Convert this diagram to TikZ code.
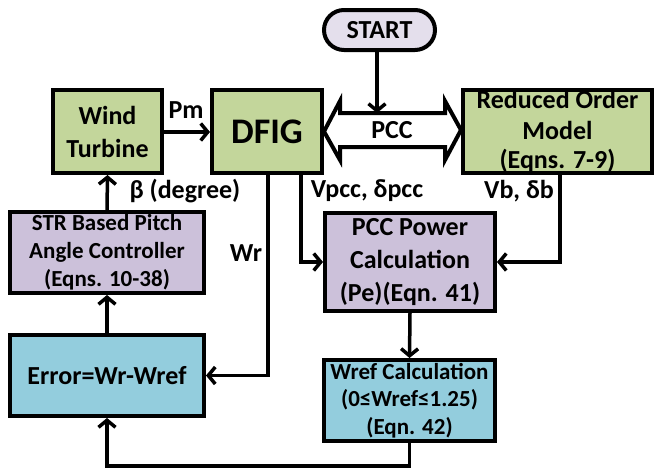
\documentclass[tikz,border=0pt]{standalone}
\usepackage{fontspec}
\setmainfont{Carlito}
\usetikzlibrary{arrows.meta}
\definecolor{cgreen}{HTML}{C3D69B}
\definecolor{cpurple}{HTML}{CCC1DA}
\definecolor{cblue}{HTML}{93CDDD}
\definecolor{cstart}{HTML}{E4DFEC}
\begin{document}
\begin{tikzpicture}[x=1pt,y=-1pt,
  box/.style={draw=black,line width=4pt,rectangle,align=center,inner sep=0pt,font=\bfseries\fontsize{26}{33}\selectfont},
  gbox/.style={box,fill=cgreen},
  pbox/.style={box,fill=cpurple},
  bbox/.style={box,fill=cblue},
  conn/.style={line width=3.5pt,-{Straight Barb[length=7pt,width=17pt]}},
  lbl/.style={font=\bfseries\fontsize{26}{30}\selectfont,inner sep=0pt}]
\useasboundingbox (0,0) rectangle (656,471);
\node[gbox,minimum width=109pt,minimum height=83pt] (wt) at (107.5,131.5) {Wind\\Turbine};
\node[gbox,minimum width=110pt,minimum height=83pt,font=\bfseries\fontsize{36}{40}\selectfont] (dfig) at (267,131.5) {DFIG};
\node[gbox,minimum width=189pt,minimum height=83pt,font=\bfseries\fontsize{26}{31}\selectfont] (rom) at (557.5,131.5) {Reduced Order\\Model\\[-2pt](Eqns. 7-9)};
\node[box,fill=cstart,rounded corners=20pt,minimum width=111pt,minimum height=40pt] (start) at (379.5,30) {START};
\node[pbox,minimum width=194pt,minimum height=81pt,font=\bfseries\fontsize{23}{28}\selectfont] (str) at (107,252.5) {STR Based Pitch\\Angle Controller\\(Eqns. 10-38)};
\node[bbox,minimum width=194pt,minimum height=81pt] (err) at (107,375.5) {Error=Wr-Wref};
\node[pbox,minimum width=170pt,minimum height=98pt] (pcc) at (410,262) {PCC Power\\Calculation\\(Pe)(Eqn. 41)};
\node[bbox,minimum width=171pt,minimum height=81pt,font=\bfseries\fontsize{23}{27.5}\selectfont] (wref) at (409.5,400.5) {Wref Calculation\\(0≤Wref≤1.25)\\(Eqn. 42)};
% PCC double arrow
\draw[line width=4pt,fill=white,line join=miter] (dfig.east) -- (340,101) -- (340,113) -- (445,113) -- (445,101) -- (rom.west |- 0,130) -- (445,160) -- (445,147) -- (340,147) -- (340,160) -- cycle;
\coordinate (pcctop) at (377,113);
\node[lbl] (pcclbl) at (392,130) {PCC};
% connectors
\draw[conn] (start.south -| pcctop) -- (pcctop);
\draw[conn] (wt.east |- 0,132) -- (dfig.west |- 0,132);
\draw[conn] (str.north) -- (wt.south);
\draw[conn] (err.north) -- (str.south);
\draw[conn] (dfig.south -| 268,0) |- (err.east);
\draw[conn] (dfig.south -| 301,0) |- (pcc.west);
\draw[conn] (rom.south -| 560,0) |- (pcc.east);
\draw[conn] (pcc.south) -- (wref.north);
\coordinate (bot) at (409.5,466);
\draw[conn] (wref.south) -- (bot) -| (err.south);
% labels
\node[lbl] (pm) at (186,110) {Pm};
\node[lbl] (beta) at (185,191) {β (degree)};
\node[lbl] (wr) at (246,253) {Wr};
\node[lbl] (vpcc) at (367,191) {Vpcc, δpcc};
\node[lbl] (vb) at (519,191) {Vb, δb};
\end{tikzpicture}
\end{document}
